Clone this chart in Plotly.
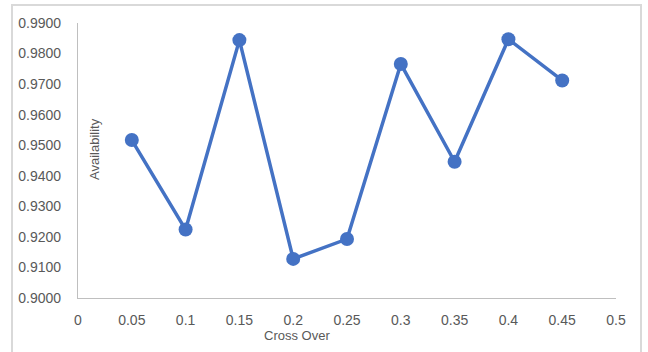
import plotly.graph_objects as go

cross_over = [0.05, 0.10, 0.15, 0.20, 0.25, 0.30, 0.35, 0.40, 0.45]
availability = [0.9517, 0.9224, 0.9844, 0.9128, 0.9193, 0.9766, 0.9446, 0.9847, 0.9712]
x_tick_vals = [0, 0.05, 0.1, 0.15, 0.2, 0.25, 0.3, 0.35, 0.4, 0.45, 0.5]
x_tick_text = ["0", "0.05", "0.1", "0.15", "0.2", "0.25", "0.3", "0.35", "0.4", "0.45", "0.5"]
y_tick_vals = [0.90, 0.91, 0.92, 0.93, 0.94, 0.95, 0.96, 0.97, 0.98, 0.99]

W, H = 648, 352
L, R, T, B = 78, 32, 23, 54
pw, ph = W - L - R, H - T - B

fig = go.Figure()
fig.add_trace(go.Scatter(
    x=cross_over, y=availability, mode="lines+markers",
    line=dict(color="#4472C4", width=3.5),
    marker=dict(color="#4472C4", size=14),
    cliponaxis=False, showlegend=False,
))

font = dict(family="Liberation Sans, Arial, sans-serif", size=14, color="#595959")

fig.update_layout(
    width=W, height=H,
    margin=dict(l=L, r=R, t=T, b=B),
    paper_bgcolor="white", plot_bgcolor="white",
    font=font,
    xaxis=dict(range=[0, 0.5], tickvals=x_tick_vals, ticktext=x_tick_text,
               showgrid=False, zeroline=False, showline=True,
               linecolor="#BFBFBF", linewidth=1.3,
               ticks="outside", ticklen=9, tickcolor="rgba(0,0,0,0)",
               tickfont=font),
    yaxis=dict(range=[0.9, 0.99], tickvals=y_tick_vals, tickformat=".4f",
               showgrid=False, zeroline=False, showline=True,
               linecolor="#BFBFBF", linewidth=1.3,
               ticks="outside", ticklen=13, tickcolor="rgba(0,0,0,0)",
               tickfont=font),
    shapes=[dict(type="rect", xref="paper", yref="paper",
                 x0=(12 - L) / pw, x1=(641 - L) / pw,
                 y0=-0.5, y1=(H - B - 5) / ph,
                 line=dict(color="#D9D9D9", width=2), layer="below")],
    annotations=[
        dict(text="Cross Over", xref="paper", yref="paper",
             x=(297 - L) / pw, y=(H - B - 335) / ph,
             showarrow=False, xanchor="center", yanchor="middle",
             font=dict(family="Liberation Sans, Arial, sans-serif", size=13, color="#595959")),
        dict(text="Availability", xref="paper", yref="paper",
             x=(94 - L) / pw, y=(H - B - 149) / ph, textangle=-90,
             showarrow=False, xanchor="center", yanchor="middle",
             font=dict(family="Liberation Sans, Arial, sans-serif", size=13, color="#595959")),
    ],
)

fig.write_html("out.html", config={"displayModeBar": False},
               post_script="document.body.style.margin='0';document.body.style.overflow='hidden';")
